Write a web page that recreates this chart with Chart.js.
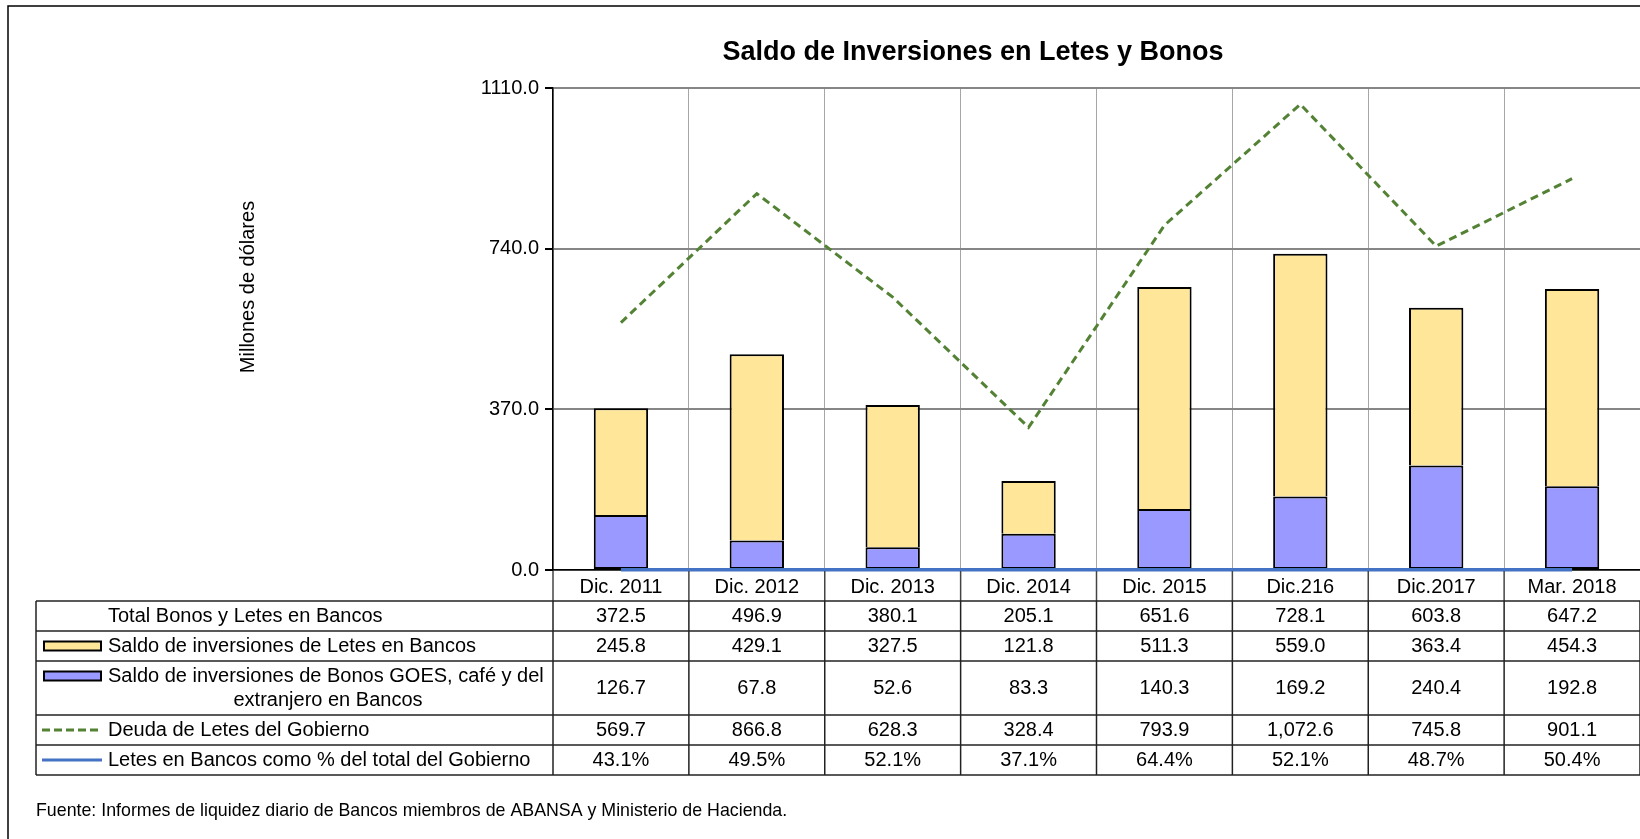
<!DOCTYPE html>
<html lang="es">
<head>
<meta charset="utf-8">
<title>Saldo de Inversiones en Letes y Bonos</title>
<script src="https://cdn.jsdelivr.net/npm/chart.js@4.4.1/dist/chart.umd.min.js"></script>
<style>
  html, body { margin: 0; padding: 0; background: #fff; }
  #grafico { display: block; }
</style>
</head>
<body>
<canvas id="grafico" width="1640" height="839"></canvas>
<script>
const categorias = ["Dic. 2011", "Dic. 2012", "Dic. 2013", "Dic. 2014", "Dic. 2015", "Dic.216", "Dic.2017", "Mar. 2018"];
const totalBancos = [372.5, 496.9, 380.1, 205.1, 651.6, 728.1, 603.8, 647.2];
const letesBancos = [245.8, 429.1, 327.5, 121.8, 511.3, 559.0, 363.4, 454.3];
const bonosBancos = [126.7, 67.8, 52.6, 83.3, 140.3, 169.2, 240.4, 192.8];
const deudaLetes = [569.7, 866.8, 628.3, 328.4, 793.9, 1072.6, 745.8, 901.1];
const pctLetes = [0.431, 0.495, 0.521, 0.371, 0.644, 0.521, 0.487, 0.504];
const yTicks = [0, 370, 740, 1110];

const fuente = "'Liberation Sans', Arial, sans-serif";
const colorLetes = "#FFE699";
const colorBonos = "#9999FF";
const colorDeuda = "#548235";
const colorPct = "#4472C4";

Chart.defaults.font.family = fuente;
Chart.defaults.font.size = 20;
Chart.defaults.color = "#000";

const fmtNum = (v) => v.toLocaleString("en-US", { minimumFractionDigits: 1, maximumFractionDigits: 1 });
const fmtPct = (v) => (v * 100).toFixed(1) + "%";

// filas de la tabla de datos (debajo del eje x)
const filas = [
  { label: ["Total Bonos y Letes en Bancos"], valores: totalBancos.map(fmtNum), top: 601, bottom: 631 },
  { label: ["Saldo de inversiones de Letes en Bancos"], valores: letesBancos.map(fmtNum), top: 631, bottom: 661, swatch: "letes" },
  { label: ["Saldo de inversiones de Bonos GOES, café y del", "extranjero en Bancos"], valores: bonosBancos.map(fmtNum), top: 661, bottom: 715, swatch: "bonos" },
  { label: ["Deuda de Letes del Gobierno"], valores: deudaLetes.map(fmtNum), top: 715, bottom: 745, swatch: "deuda" },
  { label: ["Letes en Bancos como % del total del Gobierno"], valores: pctLetes.map(fmtPct), top: 745, bottom: 775, swatch: "pct" }
];

const tablaPlugin = {
  id: "tablaDatos",
  afterDraw(chart) {
    const ctx = chart.ctx;
    const area = chart.chartArea;
    const xs = chart.scales.x;
    const n = categorias.length;
    const ancho = (area.right - area.left) / n;
    const tablaIzq = 36;
    const tablaTop = filas[0].top;
    const tablaBottom = filas[filas.length - 1].bottom;

    ctx.save();

    // marco exterior
    ctx.strokeStyle = "#000";
    ctx.lineWidth = 1.5;
    ctx.beginPath();
    ctx.moveTo(8, 845);
    ctx.lineTo(8, 6);
    ctx.lineTo(1645, 6);
    ctx.stroke();

    // titulo
    ctx.fillStyle = "#000";
    ctx.font = "bold 27px " + fuente;
    ctx.textAlign = "center";
    ctx.textBaseline = "alphabetic";
    ctx.fillText("Saldo de Inversiones en Letes y Bonos", 973, 60);

    // titulo eje y
    ctx.save();
    ctx.translate(248, 287);
    ctx.rotate(-Math.PI / 2);
    ctx.font = "20px " + fuente;
    ctx.textBaseline = "middle";
    ctx.fillText("Millones de dólares", 0, 0);
    ctx.restore();

    // separadores en la fila de categorias
    ctx.strokeStyle = "#444";
    ctx.lineWidth = 1.5;
    for (let i = 0; i < n; i++) {
      const x = area.left + i * ancho;
      ctx.beginPath();
      ctx.moveTo(x, area.bottom + 1);
      ctx.lineTo(x, tablaTop);
      ctx.stroke();
    }

    // lineas de la tabla
    ctx.strokeStyle = "#222";
    ctx.lineWidth = 1.5;
    const horizontales = [tablaTop].concat(filas.map((f) => f.bottom));
    horizontales.forEach((y) => {
      ctx.beginPath();
      ctx.moveTo(tablaIzq, y);
      ctx.lineTo(chart.width, y);
      ctx.stroke();
    });
    ctx.beginPath();
    ctx.moveTo(tablaIzq, tablaTop);
    ctx.lineTo(tablaIzq, tablaBottom);
    ctx.stroke();
    for (let i = 0; i <= n; i++) {
      const x = area.left + i * ancho;
      ctx.beginPath();
      ctx.moveTo(x, tablaTop);
      ctx.lineTo(x, tablaBottom);
      ctx.stroke();
    }

    // textos de la tabla
    ctx.font = "20px " + fuente;
    ctx.fillStyle = "#000";
    ctx.textBaseline = "middle";
    filas.forEach((f) => {
      const yc = (f.top + f.bottom) / 2;
      const y1 = f.label.length > 1 ? f.top + 15 : yc;
      ctx.textAlign = "left";
      ctx.fillText(f.label[0], 108, y1);
      if (f.label.length > 1) {
        ctx.textAlign = "center";
        ctx.fillText(f.label[1], 328, f.top + 39);
      }
      // muestra de la serie
      if (f.swatch === "letes" || f.swatch === "bonos") {
        ctx.fillStyle = f.swatch === "letes" ? colorLetes : colorBonos;
        ctx.fillRect(44, y1 - 4.5, 57, 9);
        ctx.strokeStyle = "#000";
        ctx.lineWidth = 2;
        ctx.strokeRect(44, y1 - 4.5, 57, 9);
        ctx.fillStyle = "#000";
      } else if (f.swatch === "deuda" || f.swatch === "pct") {
        ctx.strokeStyle = f.swatch === "deuda" ? colorDeuda : colorPct;
        ctx.lineWidth = 3;
        ctx.setLineDash(f.swatch === "deuda" ? [8, 4] : []);
        ctx.beginPath();
        ctx.moveTo(42, y1);
        ctx.lineTo(102, y1);
        ctx.stroke();
        ctx.setLineDash([]);
      }
      ctx.textAlign = "center";
      f.valores.forEach((v, i) => {
        ctx.fillText(v, xs.getPixelForValue(i), yc);
      });
    });

    // fuente
    ctx.textAlign = "left";
    ctx.font = "17.8px " + fuente;
    ctx.fillStyle = "#000";
    ctx.fillText("Fuente: Informes de liquidez diario de Bancos miembros de ABANSA y Ministerio de Hacienda.", 36, 811);

    ctx.restore();
  }
};

const ctx = document.getElementById("grafico").getContext("2d");

const grafico = new Chart(ctx, {
  type: "bar",
  data: {
    labels: categorias,
    datasets: [
      {
        type: "line",
        label: "Letes en Bancos como % del total del Gobierno",
        data: pctLetes,
        borderColor: colorPct,
        borderWidth: 3.5,
        pointRadius: 0,
        tension: 0,
        clip: false,
        stack: "pct",
        order: 0
      },
      {
        type: "line",
        label: "Deuda de Letes del Gobierno",
        data: deudaLetes,
        borderColor: colorDeuda,
        borderWidth: 3,
        borderDash: [8, 5],
        pointRadius: 0,
        tension: 0,
        stack: "deuda",
        order: 1
      },
      {
        label: "Saldo de inversiones de Bonos GOES, café y del extranjero en Bancos",
        data: bonosBancos,
        backgroundColor: colorBonos,
        borderColor: "#000",
        borderWidth: 2,
        borderSkipped: false,
        stack: "bancos",
        order: 2
      },
      {
        label: "Saldo de inversiones de Letes en Bancos",
        data: letesBancos,
        backgroundColor: colorLetes,
        borderColor: "#000",
        borderWidth: 2,
        borderSkipped: "bottom",
        stack: "bancos",
        order: 2
      }
    ]
  },
  options: {
    responsive: false,
    devicePixelRatio: 1,
    animation: false,
    layout: { padding: { left: 453, top: 88, right: 0, bottom: 238 } },
    datasets: { bar: { barPercentage: 0.4, categoryPercentage: 1 } },
    plugins: {
      legend: { display: false },
      title: { display: false },
      tooltip: { enabled: false }
    },
    scales: {
      x: {
        stacked: true,
        grid: { color: "#A6A6A6", lineWidth: 1, drawTicks: false },
        border: { color: "#000", width: 1.5 },
        ticks: { color: "#000", padding: 5, maxRotation: 0, autoSkip: false },
        afterFit: (s) => { s.height = 31; }
      },
      y: {
        stacked: true,
        min: yTicks[0],
        max: yTicks[yTicks.length - 1],
        afterBuildTicks: (s) => { s.ticks = yTicks.map((v) => ({ value: v })); },
        ticks: { color: "#000", padding: 6, callback: (v) => v.toFixed(1) },
        grid: { color: "#868686", lineWidth: 2, tickLength: 8, tickColor: "#000" },
        border: { color: "#000", width: 1.5 },
        afterFit: (s) => { s.width = 100; }
      }
    }
  },
  plugins: [tablaPlugin]
});
</script>
</body>
</html>
